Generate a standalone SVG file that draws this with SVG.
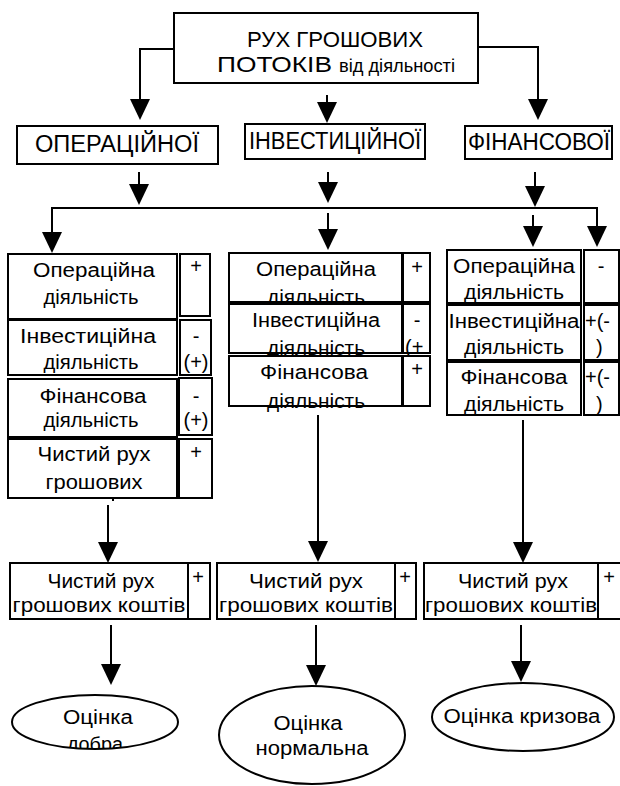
<svg xmlns="http://www.w3.org/2000/svg" width="620" height="786" viewBox="0 0 620 786">
  <defs>
    <style>
      .box { fill: #fff; stroke: #000; stroke-width: 2; }
      .ln { fill: none; stroke: #000; stroke-width: 2; }
      .arr { marker-end: url(#ah); }
      text { font-family: "Liberation Sans", Arial, sans-serif; fill: #000; }
      .t { font-size: 20px; text-anchor: middle; }
      .s { font-size: 20px; text-anchor: middle; }
      .sl { font-size: 20px; }
      .h { font-size: 22px; }
    </style>
    <marker id="ah" viewBox="0 0 21 20" refX="13" refY="10" markerWidth="21" markerHeight="20" markerUnits="userSpaceOnUse" orient="auto">
      <path d="M0,0 L21,10 L0,20 Z" fill="#000"/>
    </marker>
    <clipPath id="clipGood">
      <ellipse cx="95" cy="722" rx="83" ry="27"/>
    </clipPath>
  </defs>

  <!-- connectors -->
  <g id="connectors">
    <path class="ln arr" d="M174,49 H140 V112"/>
    <path class="ln arr" d="M327,95 V115"/>
    <path class="ln arr" d="M478,47 H538 V112"/>

    <path class="ln arr" d="M139,172 V197"/>
    <path class="ln arr" d="M328,172 V195"/>
    <path class="ln arr" d="M535,172 V199"/>

    <path class="ln" d="M52,208 H597"/>
    <path class="ln arr" d="M52,207 V245"/>
    <path class="ln arr" d="M597,207 V239"/>
    <path class="ln arr" d="M328,213 V242"/>
    <path class="ln arr" d="M533,215 V239"/>

    <path class="ln" d="M113,498 V501"/>
    <path class="ln arr" d="M108,505 V555"/>
    <path class="ln arr" d="M318,415 V554"/>
    <path class="ln arr" d="M523,420 V555"/>

    <path class="ln arr" d="M111,625 V677"/>
    <path class="ln arr" d="M316,625 V678"/>
    <path class="ln arr" d="M521,625 V674"/>
  </g>

  <!-- top node -->
  <g id="root">
    <rect class="box" x="174" y="13" width="304" height="70"/>
    <text class="h" x="335" y="47" text-anchor="middle" textLength="176" lengthAdjust="spacingAndGlyphs">РУХ ГРОШОВИХ</text>
    <text class="h" x="217" y="72" textLength="115" lengthAdjust="spacingAndGlyphs">ПОТОКІВ</text>
    <text x="339" y="72" font-size="19" textLength="116" lengthAdjust="spacingAndGlyphs">від діяльності</text>
  </g>

  <!-- activity types -->
  <g id="operating">
    <rect class="box" x="17" y="126" width="201" height="38"/>
    <text x="117" y="152" font-size="23" text-anchor="middle" textLength="164" lengthAdjust="spacingAndGlyphs">ОПЕРАЦІЙНОЇ</text>
  </g>
  <g id="investing">
    <rect class="box" x="245" y="124" width="180" height="35"/>
    <text x="335" y="149" font-size="23" text-anchor="middle" textLength="172" lengthAdjust="spacingAndGlyphs">ІНВЕСТИЦІЙНОЇ</text>
  </g>
  <g id="financing">
    <rect class="box" x="465" y="126" width="147" height="33"/>
    <text x="539" y="150" font-size="23" text-anchor="middle" textLength="142" lengthAdjust="spacingAndGlyphs">ФІНАНСОВОЇ</text>
  </g>

  <!-- left column -->
  <g id="left-operating">
    <rect class="box" x="8" y="254" width="169" height="65"/>
    <rect class="box" x="180" y="254" width="30" height="62"/>
    <text class="t" x="94" y="277" textLength="122" lengthAdjust="spacingAndGlyphs">Операційна</text>
    <text class="t" x="91" y="304" textLength="95" lengthAdjust="spacingAndGlyphs">діяльність</text>
    <text class="s" x="196" y="273">+</text>
  </g>
  <g id="left-investing">
    <rect class="box" x="8" y="320" width="169" height="55"/>
    <rect class="box" x="180" y="320" width="31" height="55"/>
    <text class="t" x="88" y="343" textLength="136" lengthAdjust="spacingAndGlyphs">Інвестиційна</text>
    <text class="t" x="91" y="369" textLength="95" lengthAdjust="spacingAndGlyphs">діяльність</text>
    <text class="s" x="196" y="343">-</text>
    <text class="s" x="196" y="369">(+)</text>
  </g>
  <g id="left-financing">
    <rect class="box" x="8" y="379" width="169" height="58"/>
    <rect class="box" x="179" y="378" width="33" height="57"/>
    <text class="t" x="93" y="403" textLength="107" lengthAdjust="spacingAndGlyphs">Фінансова</text>
    <text class="t" x="91" y="427" textLength="95" lengthAdjust="spacingAndGlyphs">діяльність</text>
    <text class="s" x="196" y="403">-</text>
    <text class="s" x="196" y="427">(+)</text>
  </g>
  <g id="left-net">
    <rect class="box" x="8" y="439" width="169" height="59"/>
    <rect class="box" x="179" y="439" width="33" height="59"/>
    <text class="t" x="94" y="461" textLength="113" lengthAdjust="spacingAndGlyphs">Чистий рух</text>
    <text class="t" x="94" y="489" textLength="97" lengthAdjust="spacingAndGlyphs">грошових</text>
    <text class="s" x="196" y="459">+</text>
  </g>

  <!-- middle column -->
  <g id="mid-operating">
    <rect class="box" x="229" y="253" width="173" height="49"/>
    <rect class="box" x="403" y="253" width="27" height="49"/>
    <text class="t" x="316" y="276" textLength="120" lengthAdjust="spacingAndGlyphs">Операційна</text>
    <text class="t" x="316" y="304" textLength="98" lengthAdjust="spacingAndGlyphs">діяльність</text>
    <text class="s" x="417" y="274">+</text>
  </g>
  <g id="mid-investing">
    <rect class="box" x="229" y="304" width="173" height="49"/>
    <rect class="box" x="403" y="304" width="27" height="49"/>
    <text class="t" x="316" y="327" textLength="128" lengthAdjust="spacingAndGlyphs">Інвестиційна</text>
    <text class="t" x="316" y="355" textLength="98" lengthAdjust="spacingAndGlyphs">діяльність</text>
    <text class="s" x="417" y="327">-</text>
    <text class="sl" x="405" y="354">(+</text>
  </g>
  <g id="mid-financing">
    <rect class="box" x="229" y="356" width="173" height="50"/>
    <rect class="box" x="403" y="356" width="27" height="50"/>
    <text class="t" x="314" y="379" textLength="108" lengthAdjust="spacingAndGlyphs">Фінансова</text>
    <text class="t" x="316" y="408" textLength="98" lengthAdjust="spacingAndGlyphs">діяльність</text>
    <text class="s" x="417" y="376">+</text>
  </g>

  <!-- right column -->
  <g id="right-operating">
    <rect class="box" x="447" y="250" width="134" height="53"/>
    <rect class="box" x="584" y="250" width="35" height="53"/>
    <text class="t" x="514" y="273" textLength="122" lengthAdjust="spacingAndGlyphs">Операційна</text>
    <text class="t" x="514" y="299" textLength="100" lengthAdjust="spacingAndGlyphs">діяльність</text>
    <text class="s" x="601" y="273">-</text>
  </g>
  <g id="right-investing">
    <rect class="box" x="447" y="305" width="134" height="55"/>
    <rect class="box" x="584" y="305" width="35" height="55"/>
    <text class="t" x="514" y="328" textLength="131" lengthAdjust="spacingAndGlyphs">Інвестиційна</text>
    <text class="t" x="514" y="354" textLength="100" lengthAdjust="spacingAndGlyphs">діяльність</text>
    <text class="sl" x="585" y="328">+(-</text>
    <text class="sl" x="596" y="354">)</text>
  </g>
  <g id="right-financing">
    <rect class="box" x="447" y="362" width="134" height="53"/>
    <rect class="box" x="584" y="362" width="35" height="53"/>
    <text class="t" x="514" y="384" textLength="107" lengthAdjust="spacingAndGlyphs">Фінансова</text>
    <text class="t" x="514" y="411" textLength="100" lengthAdjust="spacingAndGlyphs">діяльність</text>
    <text class="sl" x="585" y="384">+(-</text>
    <text class="sl" x="596" y="411">)</text>
  </g>

  <!-- net cash flow -->
  <g id="net-left">
    <rect class="box" x="10" y="563" width="178" height="56"/>
    <rect class="box" x="188" y="563" width="22" height="56"/>
    <text class="t" x="101" y="588" textLength="107" lengthAdjust="spacingAndGlyphs">Чистий рух</text>
    <text class="t" x="99" y="612" textLength="173" lengthAdjust="spacingAndGlyphs">грошових коштів</text>
    <text class="s" x="198" y="584">+</text>
  </g>
  <g id="net-mid">
    <rect class="box" x="217" y="563" width="178" height="56"/>
    <rect class="box" x="395" y="563" width="21" height="56"/>
    <text class="t" x="306" y="588" textLength="114" lengthAdjust="spacingAndGlyphs">Чистий рух</text>
    <text class="t" x="306" y="612" textLength="174" lengthAdjust="spacingAndGlyphs">грошових коштів</text>
    <text class="s" x="405" y="584">+</text>
  </g>
  <g id="net-right">
    <rect class="box" x="424" y="563" width="174" height="56"/>
    <rect class="box" x="598" y="563" width="23" height="56"/>
    <text class="t" x="513" y="588" textLength="110" lengthAdjust="spacingAndGlyphs">Чистий рух</text>
    <text class="t" x="511" y="612" textLength="172" lengthAdjust="spacingAndGlyphs">грошових коштів</text>
    <text class="s" x="609" y="584">+</text>
  </g>

  <!-- assessments -->
  <g id="eval-good">
    <ellipse class="box" cx="95" cy="722" rx="83" ry="27"/>
    <g clip-path="url(#clipGood)">
      <text class="t" x="98" y="724" textLength="70" lengthAdjust="spacingAndGlyphs">Оцінка</text>
      <text class="t" x="95" y="751" textLength="56" lengthAdjust="spacingAndGlyphs">добра</text>
    </g>
  </g>
  <g id="eval-normal">
    <ellipse class="box" cx="312" cy="735" rx="93" ry="49"/>
    <text class="t" x="308" y="730" textLength="69" lengthAdjust="spacingAndGlyphs">Оцінка</text>
    <text class="t" x="312" y="755" textLength="113" lengthAdjust="spacingAndGlyphs">нормальна</text>
  </g>
  <g id="eval-crisis">
    <ellipse class="box" cx="523" cy="717" rx="91" ry="34"/>
    <text class="t" x="522" y="723" textLength="157" lengthAdjust="spacingAndGlyphs">Оцінка кризова</text>
  </g>
</svg>
